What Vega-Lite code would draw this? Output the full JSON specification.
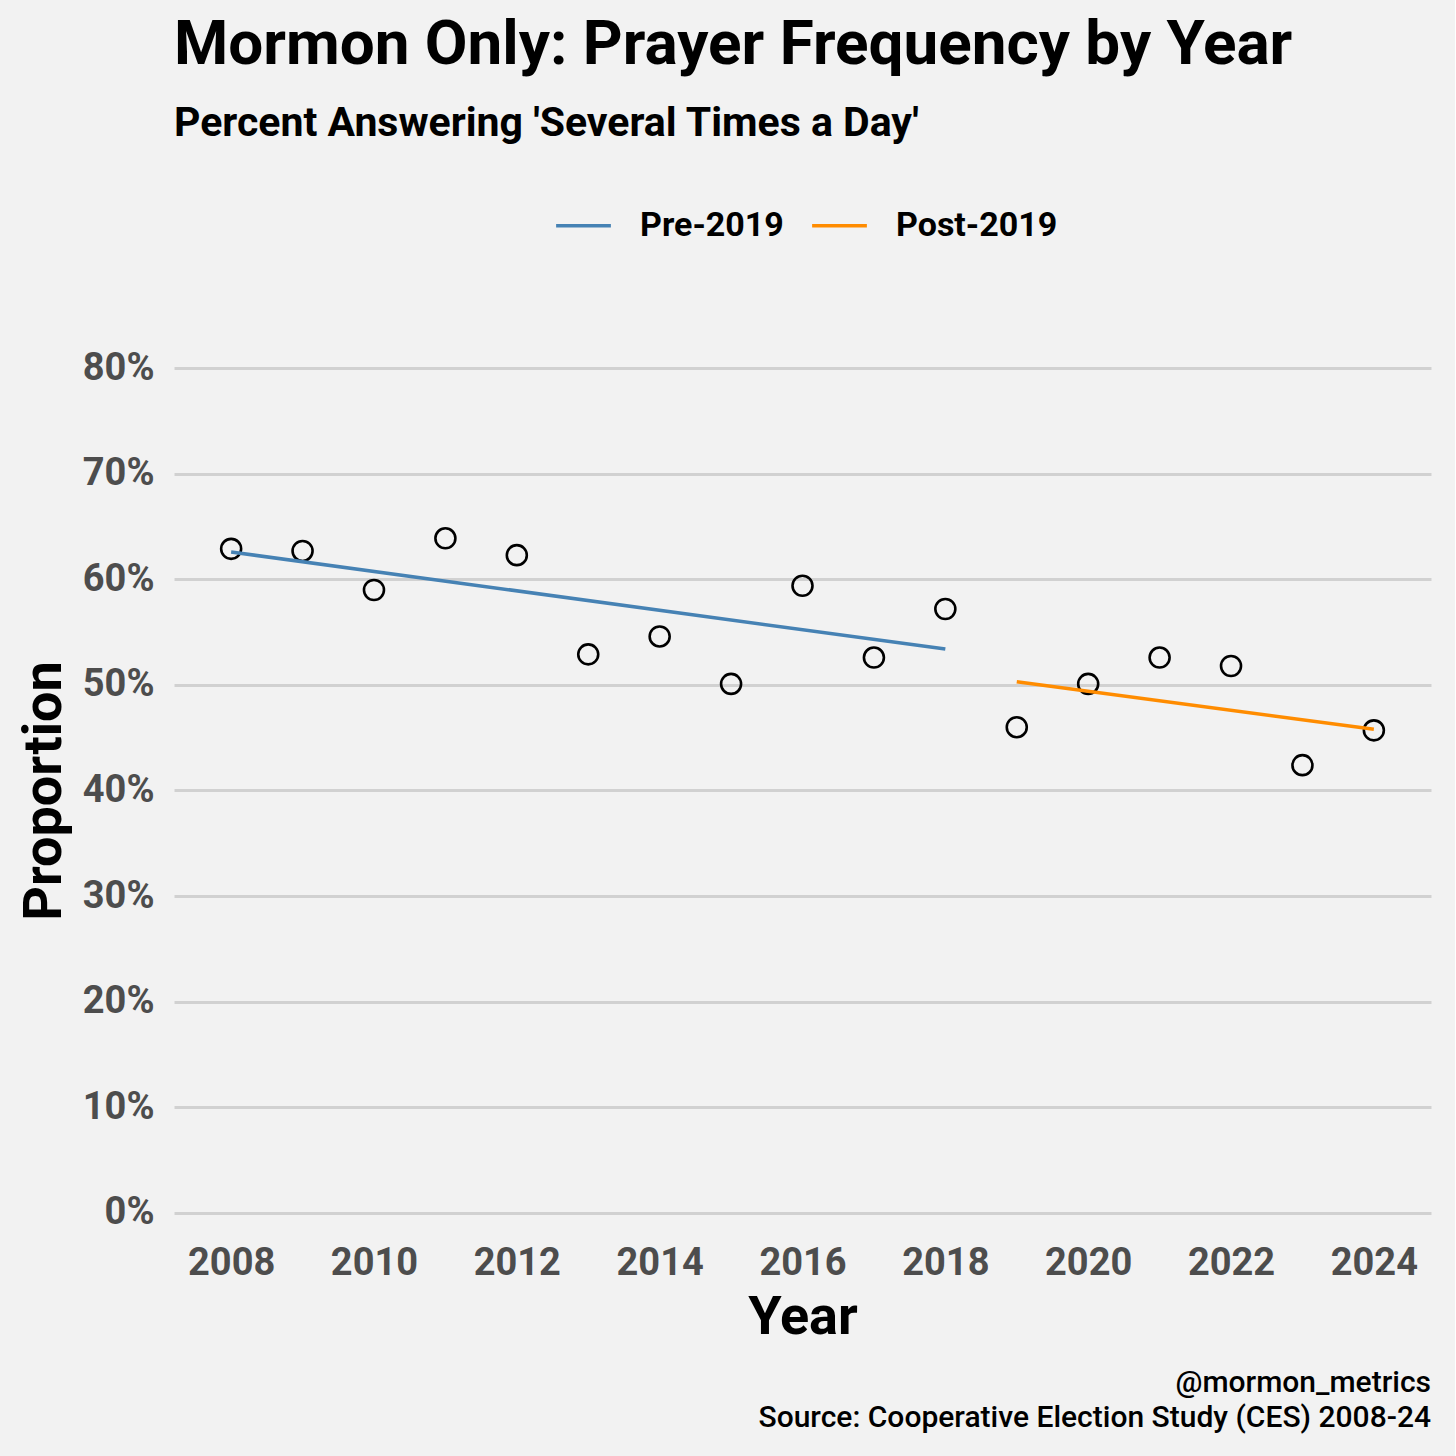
{
  "$schema": "https://vega.github.io/schema/vega-lite/v6.json",
  "background": "#f2f2f2",
  "padding": {"left": 17, "top": 14, "right": 24, "bottom": 23},
  "config": {
    "font": "Roboto",
    "view": {"stroke": null}
  },
  "title": {
    "text": ["@mormon_metrics", "Source: Cooperative Election Study (CES) 2008-24"],
    "orient": "bottom",
    "anchor": "end",
    "frame": "group",
    "fontSize": 30,
    "fontWeight": 500,
    "lineHeight": 35,
    "color": "#000000",
    "offset": 24
  },
  "vconcat": [
    {
      "width": 1257,
      "height": 897,
      "title": {
        "text": "Mormon Only: Prayer Frequency by Year",
        "subtitle": "Percent Answering 'Several Times a Day'",
        "anchor": "start",
        "frame": "group",
        "fontSize": 62,
        "fontWeight": "bold",
        "color": "#000000",
        "subtitleFontSize": 41,
        "subtitleFontWeight": "bold",
        "subtitleColor": "#000000",
        "subtitlePadding": 27,
        "offset": 197
      },
      "layer": [
        {
          "data": {
            "values": [
              {"year": 2008, "prop": 0.629},
              {"year": 2009, "prop": 0.627},
              {"year": 2010, "prop": 0.590},
              {"year": 2011, "prop": 0.639},
              {"year": 2012, "prop": 0.623},
              {"year": 2013, "prop": 0.529},
              {"year": 2014, "prop": 0.546},
              {"year": 2015, "prop": 0.501},
              {"year": 2016, "prop": 0.594},
              {"year": 2017, "prop": 0.526},
              {"year": 2018, "prop": 0.572},
              {"year": 2019, "prop": 0.460},
              {"year": 2020, "prop": 0.501},
              {"year": 2021, "prop": 0.526},
              {"year": 2022, "prop": 0.518},
              {"year": 2023, "prop": 0.424},
              {"year": 2024, "prop": 0.457}
            ]
          },
          "mark": {"type": "point", "filled": false, "stroke": "#000000", "strokeWidth": 2.6, "size": 400, "opacity": 1},
          "encoding": {
            "x": {
              "field": "year",
              "type": "quantitative",
              "scale": {"domain": [2007.2, 2024.8], "nice": false, "zero": false},
              "axis": {
                "values": [2008, 2010, 2012, 2014, 2016, 2018, 2020, 2022, 2024],
                "format": "d",
                "grid": false,
                "ticks": false,
                "domain": false,
                "labelFontSize": 38,
                "labelFontWeight": "bold",
                "labelColor": "#4d4d4d",
                "labelPadding": 5,
                "title": "Year",
                "titleFontSize": 54,
                "titleFontWeight": "bold",
                "titleColor": "#000000",
                "titlePadding": 8
              }
            },
            "y": {
              "field": "prop",
              "type": "quantitative",
              "scale": {"domain": [-0.025, 0.825], "nice": false, "zero": false},
              "axis": {
                "values": [0, 0.1, 0.2, 0.3, 0.4, 0.5, 0.6, 0.7, 0.8],
                "format": ".0%",
                "grid": true,
                "gridColor": "#d1d1d1",
                "gridWidth": 3,
                "ticks": false,
                "domain": false,
                "labelFontSize": 38,
                "labelFontWeight": "bold",
                "labelColor": "#4d4d4d",
                "labelPadding": 20,
                "title": "Proportion",
                "titleFontSize": 54,
                "titleFontWeight": "bold",
                "titleColor": "#000000",
                "titlePadding": 11
              }
            }
          }
        },
        {
          "data": {
            "values": [
              {"year": 2008, "prop": 0.626, "period": "Pre-2019"},
              {"year": 2018, "prop": 0.534, "period": "Pre-2019"},
              {"year": 2019, "prop": 0.503, "period": "Post-2019"},
              {"year": 2024, "prop": 0.458, "period": "Post-2019"}
            ]
          },
          "mark": {"type": "line", "strokeWidth": 3.5},
          "encoding": {
            "x": {"field": "year", "type": "quantitative"},
            "y": {"field": "prop", "type": "quantitative"},
            "color": {
              "field": "period",
              "type": "nominal",
              "scale": {"domain": ["Pre-2019", "Post-2019"], "range": ["#4682b4", "#ff8c00"]},
              "legend": {
                "title": null,
                "orient": "none",
                "direction": "horizontal",
                "legendX": 380,
                "legendY": -146,
                "symbolType": "stroke",
                "symbolSize": 3000,
                "symbolStrokeWidth": 3.5,
                "labelFontSize": 34,
                "labelFontWeight": "bold",
                "labelColor": "#000000",
                "labelOffset": 27,
                "columnPadding": 21,
                "labelLimit": 400
              }
            }
          }
        }
      ]
    }
  ]
}
